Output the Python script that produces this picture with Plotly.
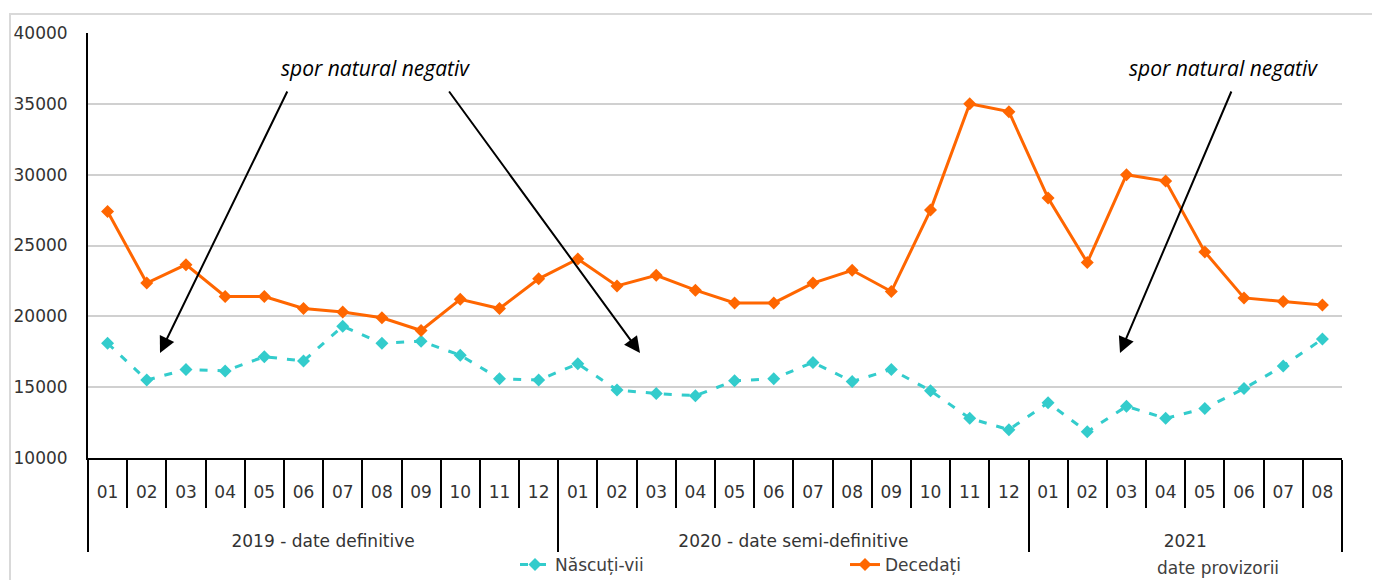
import plotly.graph_objects as go

years = ["2019 - date definitive"] * 12 + ["2020 - date semi-definitive"] * 12 + ["2021"] * 8
months = ["01", "02", "03", "04", "05", "06", "07", "08", "09", "10", "11", "12"] * 2 + \
         ["01", "02", "03", "04", "05", "06", "07", "08"]

nascuti_vii = [18100, 15500, 16250, 16150, 17150, 16850, 19300, 18100, 18250, 17250, 15600, 15500,
               16650, 14800, 14550, 14400, 15450, 15600, 16750, 15400, 16250, 14750, 12800, 12000,
               13900, 11850, 13650, 12800, 13500, 14900, 16500, 18400]
decedati = [27400, 22350, 23650, 21400, 21400, 20550, 20300, 19900, 19000, 21200, 20550, 22650,
            24050, 22150, 22900, 21850, 20950, 20950, 22350, 23250, 21750, 27500, 35000, 34450,
            28350, 23800, 30000, 29550, 24550, 21300, 21050, 20800]

y_ticks = [10000, 15000, 20000, 25000, 30000, 35000, 40000]

TEAL = "#33CCCC"
ORANGE = "#FF6600"
FONT = "DejaVu Sans"
TXT = "#333333"
FS = 17

# plot area in page pixels (page body has an 8px margin)
PX0, PY0, PW, PH = 88, 458, 1254, 425


def px(x):
    return (x - PX0) / PW


def py(y):
    return (PY0 - y) / PH


# outer-level labels pushed down two lines so they sit below the month row
year_axis = ["<br><br>" + y for y in years]

fig = go.Figure()
fig.add_trace(go.Scatter(
    x=[year_axis, months], y=nascuti_vii, name="Născuți-vii", mode="lines+markers",
    line=dict(color=TEAL, width=3, dash="8px,10px"),
    marker=dict(symbol="diamond", size=10, color=TEAL),
))
fig.add_trace(go.Scatter(
    x=[year_axis, months], y=decedati, name="Decedați", mode="lines+markers",
    line=dict(color=ORANGE, width=3),
    marker=dict(symbol="diamond", size=10, color=ORANGE),
))

fig.update_layout(
    width=1372, height=572,
    margin=dict(l=PX0 - 8, r=1372 - (PX0 - 8) - PW, t=PY0 - PH - 8,
                b=572 - (PY0 - 8), autoexpand=False),
    paper_bgcolor="white", plot_bgcolor="white",
    font=dict(family=FONT, size=FS, color=TXT),
    showlegend=True,
    legend=dict(orientation="h", x=px(515), xanchor="left",
                y=py(565), yanchor="middle",
                font=dict(family=FONT, size=FS, color="#404040"),
                entrywidth=285, bgcolor="rgba(0,0,0,0)"),
)

fig.update_yaxes(
    range=[10000, 40000], tickvals=y_ticks, ticktext=[str(v) for v in y_ticks],
    showgrid=True, gridcolor="#d0d0d0", gridwidth=2,
    showline=True, linecolor="black", linewidth=2,
    ticks="", ticklabelstandoff=15, zeroline=False,
    tickfont=dict(family=FONT, size=FS, color=TXT),
)
fig.update_xaxes(
    type="multicategory", range=[-0.5, 31.5], showgrid=False,
    showline=True, linecolor="black", linewidth=2,
    ticks="outside", ticklen=48, tickcolor="black", tickwidth=2,
    showdividers=True, dividercolor="black", dividerwidth=2,
    ticklabelstandoff=18,
    tickfont=dict(family=FONT, size=FS, color=TXT),
)

# outer frame of the chart area
fig.add_shape(type="rect", xref="paper", yref="paper",
              x0=px(10), x1=px(1420), y0=py(620), y1=py(14),
              line=dict(color="#d9d9d9", width=2), layer="below")

ann_font = dict(family="Open Sans", size=21, color="black", style="italic")
for tx in [375, 1223]:
    fig.add_annotation(xref="paper", yref="paper", x=px(tx), y=py(68),
                       xanchor="center", yanchor="middle",
                       text="spor natural negativ", showarrow=False, font=ann_font)

arrows = [(160, 288), (640, 448), (1120, 1232)]
for head_x, tail_x in arrows:
    fig.add_annotation(xref="paper", yref="paper", x=px(head_x), y=py(353),
                       axref="pixel", ayref="pixel", ax=tail_x - head_x, ay=90 - 353,
                       text="", showarrow=True, arrowhead=2, arrowsize=1.6,
                       arrowwidth=2, arrowcolor="black")

fig.add_annotation(xref="paper", yref="paper", x=px(1218), y=py(568),
                   xanchor="center", yanchor="middle",
                   text="date provizorii", showarrow=False,
                   font=dict(family=FONT, size=FS, color="#404040"))

fig.write_html("out.html")
